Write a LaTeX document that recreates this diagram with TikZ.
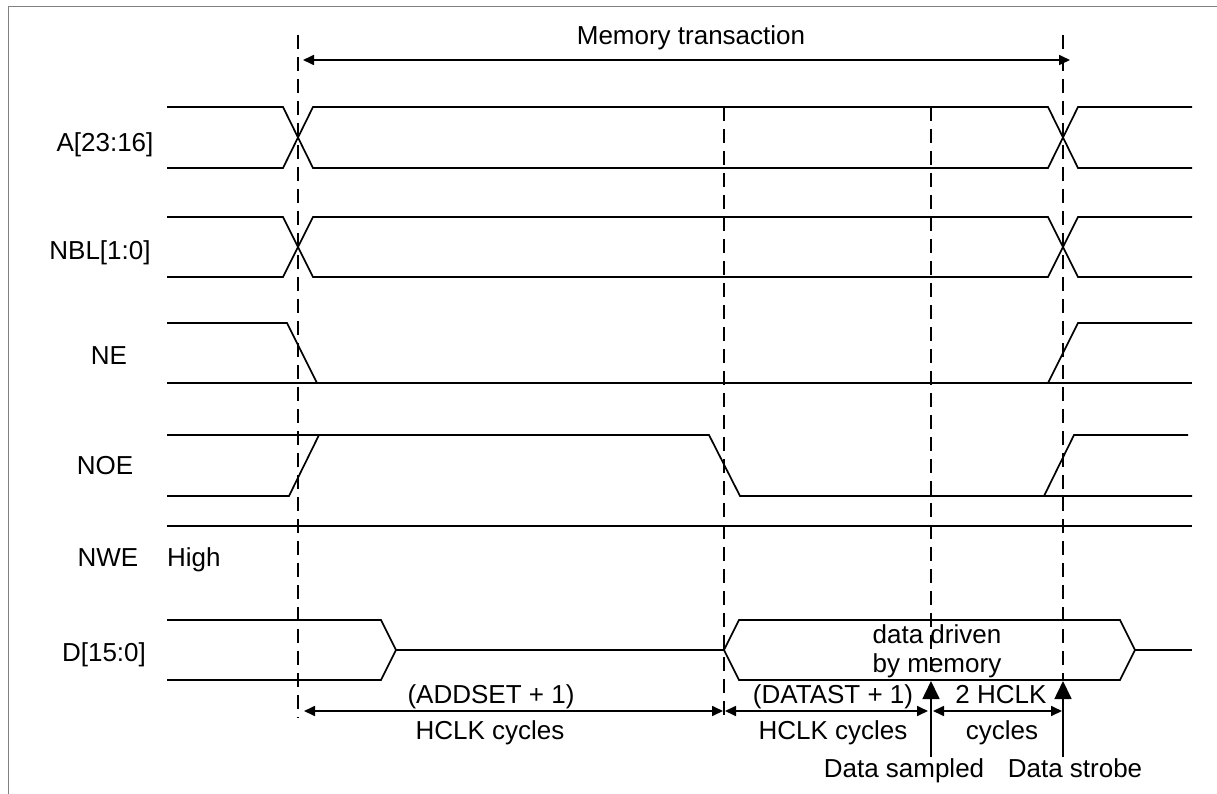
\documentclass[tikz,border=0pt]{standalone}
\usepackage{fontspec}
\setmainfont{Liberation Sans}
\usetikzlibrary{arrows.meta,positioning,calc}

\begin{document}
\begin{tikzpicture}[x=1pt,y=-1pt,>={Triangle[length=11pt,width=10pt]},
  sig/.style={line width=1.7pt},
  guide/.style={line width=1.5pt,dash pattern=on 14pt off 8pt},
  lbl/.style={font=\fontsize{26}{30}\selectfont,inner sep=0pt,anchor=base},
  bigtip/.style={-{Triangle[length=18pt,width=17pt]},line width=1.7pt}]
  \useasboundingbox (0,0) rectangle (1217,794);
  \draw[gray,line width=1pt] (8,794) -- (8,7) -- (1217,7);

  \node[lbl] (la) at (105,152) {A[23:16]};
  \node[lbl] (lnbl) at (100,259) {NBL[1:0]};
  \node[lbl] (lne) at (109,364) {NE};
  \node[lbl] (lnoe) at (105,474) {NOE};
  \node[lbl] (lnwe) at (108,566) {NWE};
  \node[lbl,anchor=base west] (high) at (167,566) {High};
  \node[lbl] (ld) at (104,661) {D[15:0]};

  \foreach \t/\b in {107/168,217/277}{
    \draw[sig] (167,\t) -- (283,\t) -- (313,\b) -- (1048,\b) -- (1078,\t) -- (1192,\t);
    \draw[sig] (167,\b) -- (283,\b) -- (313,\t) -- (1048,\t) -- (1078,\b) -- (1192,\b);
  }

  \draw[sig] (167,323) -- (287,323) -- (317,383);
  \draw[sig] (167,383) -- (1192,383);
  \draw[sig] (1048,383) -- (1078,323) -- (1192,323);

  \draw[sig] (167,435) -- (709,435) -- (740,496) -- (1192,496);
  \draw[sig] (167,496) -- (289,496) -- (319,435);
  \draw[sig] (1044,496) -- (1074,435) -- (1188,435);

  \draw[sig] (167,526) -- (1192,526);

  \draw[sig] (167,620) -- (381,620) -- (396,650) -- (381,680) -- (167,680);
  \draw[sig] (396,650) -- (724,650);
  \draw[sig] (724,650) -- (739,620) -- (1120,620) -- (1135,650)
    -- (1120,680) -- (739,680) -- cycle;
  \draw[sig] (1135,650) -- (1192,650);
  \node[lbl] (drv1) at (937,643) {data driven};
  \node[lbl] (drv2) at (937,672) {by memory};

  \coordinate (g1t) at (298,35);   \coordinate (g1b) at (298,718);
  \coordinate (g2t) at (724,107);  \coordinate (g2b) at (724,718);
  \coordinate (g3t) at (931,107);  \coordinate (g3b) at (931,681);
  \coordinate (g4t) at (1063,35);  \coordinate (g4b) at (1063,681);
  \foreach \g in {g1,g2,g3,g4}
    \draw[guide] (\g t) -- (\g b);

  \coordinate (m1) at (303,60);
  \coordinate (m2) at (1070,60);
  \draw[<->,sig] (m1) -- (m2);
  \node[lbl] (mem) at (691,45) {Memory transaction};

  \coordinate (t1) at (298,711);
  \coordinate (t2) at (724,711);
  \coordinate (t3) at (931,711);
  \coordinate (t4) at (1063,711);
  \draw[<->,sig,shorten <=6pt,shorten >=1pt] (t1) -- (t2);
  \draw[<->,sig,shorten <=1pt,shorten >=3pt] (t2) -- (t3);
  \draw[<->,sig,shorten <=2pt,shorten >=1pt] (t3) -- (t4);
  \node[lbl] (adds) at (491,703) {(ADDSET + 1)};
  \node[lbl] (adds2) at (490,739) {HCLK cycles};
  \node[lbl] (dats) at (833,703) {(DATAST + 1)};
  \node[lbl] (dats2) at (833,739) {HCLK cycles};
  \node[lbl] (two) at (1001,703) {2 HCLK};
  \node[lbl] (two2) at (1002,739) {cycles};

  \coordinate (smp) at (931,757);
  \coordinate (stb) at (1063,757);
  \draw[bigtip] (smp) -- (g3b);
  \draw[bigtip] (stb) -- (g4b);
  \node[lbl] (lsmp) at (904,777) {Data sampled};
  \node[lbl] (lstb) at (1075,777) {Data strobe};
\end{tikzpicture}
\end{document}
